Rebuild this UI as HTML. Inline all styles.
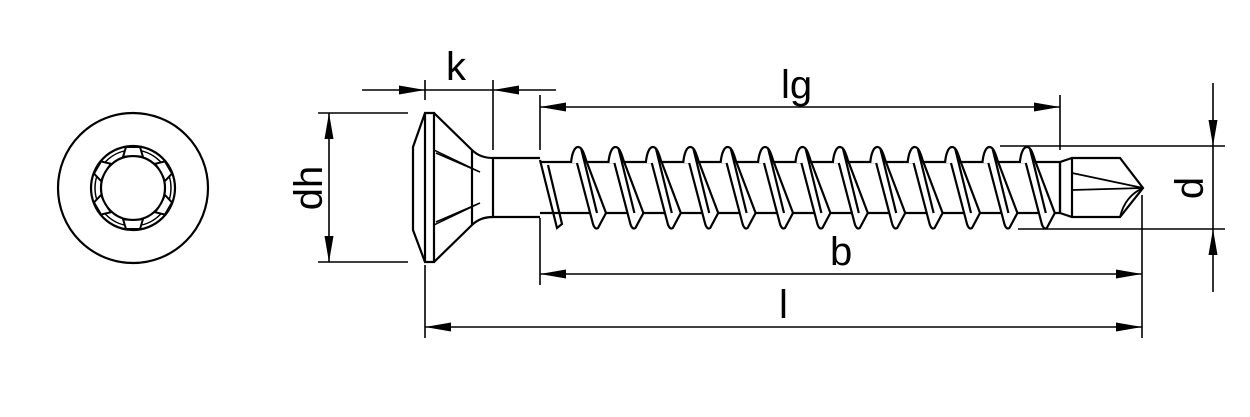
<!DOCTYPE html>
<html><head><meta charset="utf-8"><style>
html,body{margin:0;padding:0;background:#fff;}
svg{display:block;}
text{font-family:"Liberation Sans",sans-serif;fill:#000;}
</style></head><body>
<svg width="1250" height="417" viewBox="0 0 1250 417" xmlns="http://www.w3.org/2000/svg">
<defs>
<marker id="a" viewBox="0 0 26 10" refX="26" refY="5" markerWidth="26" markerHeight="10" markerUnits="userSpaceOnUse" orient="auto-start-reverse">
<path d="M0,0.5 L26,5 L0,9.5 Z" fill="#000"/>
</marker>
</defs>
<g fill="none" stroke="#000" stroke-width="2.2">
<!-- head view -->
<circle cx="133" cy="188" r="75"/>
<circle cx="133" cy="188" r="42"/>
<circle cx="133" cy="188" r="38" stroke-width="1.5"/>
<circle cx="133" cy="188" r="32"/>
<g stroke-width="2" fill="#fff">
<path d="M126,147 L140,147 L143,157 Q133,155 123,157 Z" transform="rotate(0 133 188)"/>
<path d="M126,147 L140,147 L143,157 Q133,155 123,157 Z" transform="rotate(60 133 188)"/>
<path d="M126,147 L140,147 L143,157 Q133,155 123,157 Z" transform="rotate(120 133 188)"/>
<path d="M126,147 L140,147 L143,157 Q133,155 123,157 Z" transform="rotate(180 133 188)"/>
<path d="M126,147 L140,147 L143,157 Q133,155 123,157 Z" transform="rotate(240 133 188)"/>
<path d="M126,147 L140,147 L143,157 Q133,155 123,157 Z" transform="rotate(300 133 188)"/>
</g>
<!-- screw head -->
<path d="M425,113 L413,147 L413,230 L425,262 L434,262 L434,113 Z"/>
<line x1="425" y1="113" x2="425" y2="262"/>
<path d="M434,113 L472,150 Q480,158 493,158 L540,158"/>
<path d="M434,262 L472,225 Q480,217 493,217 L540,217"/>
<line x1="472" y1="150" x2="472" y2="225"/>
<line x1="493" y1="158" x2="493" y2="217"/>
<path d="M434,150 L480,172 M436,153 L480,172" stroke-width="1.5"/>
<path d="M434,225 L480,203 M436,222 L480,203" stroke-width="1.5"/>
<!-- core -->
<line x1="540" y1="162" x2="1060" y2="162"/>
<line x1="540" y1="213" x2="1060" y2="213"/>
<path d="M540,160 L557,228 L562,224 L548,165"/>
<!-- tip -->
<path d="M1060,162 L1072,158 L1120,158 L1143,188 L1120,217 L1072,217 L1060,213 Z"/>
<line x1="1060" y1="162" x2="1060" y2="213"/>
<line x1="1072" y1="158" x2="1072" y2="217"/>
<path d="M1072,173 L1143,188 M1072,190 L1143,188 M1143,188 Q1125,196 1120,217" stroke-width="1.8"/>
<g stroke-width="1.6">
<line x1="425" y1="80" x2="425" y2="100"/>
<line x1="425" y1="265" x2="425" y2="338"/>
<line x1="493" y1="80" x2="493" y2="150"/>
<line x1="540" y1="95" x2="540" y2="150"/>
<line x1="540" y1="218" x2="540" y2="285"/>
<line x1="1060" y1="95" x2="1060" y2="150"/>
<line x1="1142" y1="195" x2="1142" y2="338"/>
<line x1="318" y1="113" x2="408" y2="113"/>
<line x1="318" y1="262" x2="408" y2="262"/>
<line x1="1000" y1="146" x2="1225" y2="146"/>
<line x1="1018" y1="229" x2="1225" y2="229"/>
<line x1="362" y1="90" x2="425" y2="90" marker-end="url(#a)"/>
<line x1="425" y1="90" x2="493" y2="90"/>
<line x1="556" y1="90" x2="493" y2="90" marker-end="url(#a)"/>
<line x1="329" y1="113" x2="329" y2="262" marker-start="url(#a)" marker-end="url(#a)"/>
<line x1="540" y1="107" x2="1060" y2="107" marker-start="url(#a)" marker-end="url(#a)"/>
<line x1="540" y1="274" x2="1142" y2="274" marker-start="url(#a)" marker-end="url(#a)"/>
<line x1="425" y1="327" x2="1142" y2="327" marker-start="url(#a)" marker-end="url(#a)"/>
<line x1="1213" y1="83" x2="1213" y2="146" marker-end="url(#a)"/>
<line x1="1213" y1="292" x2="1213" y2="229" marker-end="url(#a)"/>
<line x1="1213" y1="146" x2="1213" y2="229"/>
</g>
</g>
<g fill="#fff" stroke="#000" stroke-width="2.2" stroke-linejoin="round">
<path id="t" d="M-6,163 C-5,152 -2,147 1,147 C4,147 6,150 9,160 L29,213 L21,228 Q18,230 16,224 L0,163 M4,148 L20,213" transform="translate(577,0)"/>
<use href="#t" x="37.4"/><use href="#t" x="74.8"/><use href="#t" x="112.2"/>
<use href="#t" x="149.6"/><use href="#t" x="187"/><use href="#t" x="224.4"/>
<use href="#t" x="261.8"/><use href="#t" x="299.2"/><use href="#t" x="336.6"/>
<use href="#t" x="374"/><use href="#t" x="411.4"/><use href="#t" x="448.8"/>
</g>
<text x="446" y="80" font-size="40">k</text>
<text x="781" y="98" font-size="40">lg</text>
<text x="830" y="265" font-size="40">b</text>
<text x="779" y="318" font-size="40">l</text>
<text transform="translate(322,188) rotate(-90)" text-anchor="middle" font-size="40">dh</text>
<text transform="translate(1203,188) rotate(-90)" text-anchor="middle" font-size="40">d</text>
</svg>
</body></html>
